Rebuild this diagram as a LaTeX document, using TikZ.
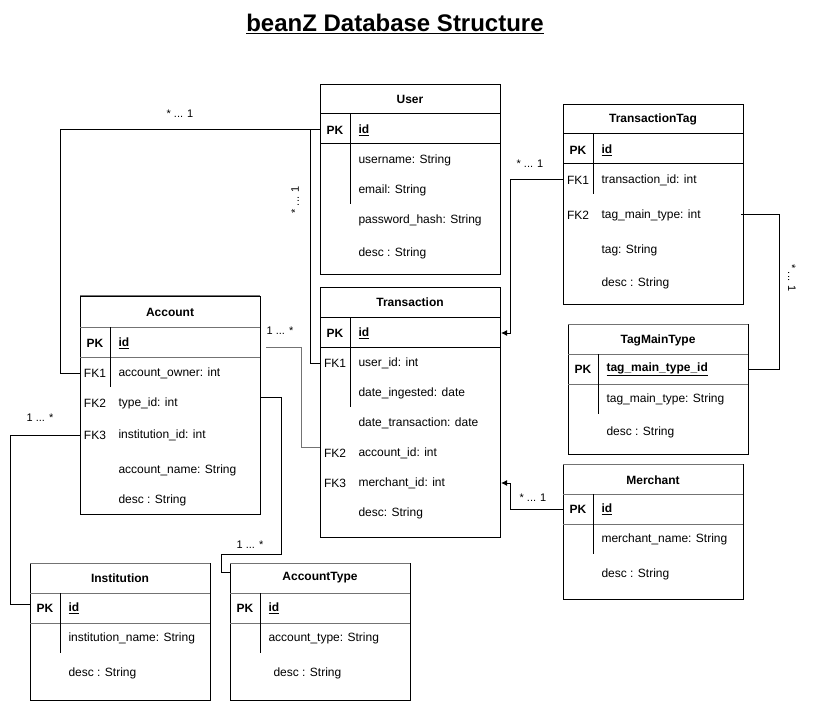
\documentclass[tikz,border=0pt]{standalone}
\usepackage{fontspec}
\setmainfont{Liberation Sans}
\usetikzlibrary{arrows.meta}

\begin{document}
\begin{tikzpicture}[x=1pt,y=-1pt,line width=1pt,
  every node/.style={inner sep=0pt,font=\fontsize{12}{14}\selectfont},
  tbl/.style={draw,anchor=north west,minimum width=180pt},
  head/.style={font=\fontsize{12}{14}\selectfont\bfseries},
  row/.style={anchor=west},
  sep/.style={draw=black},
  gsep/.style={draw=black!55},
  mult/.style={font=\fontsize{11}{13}\selectfont},
  link/.style={draw=black},
  fk/.style={-{Latex[length=6pt,width=6pt]}}]
\useasboundingbox (0,0) rectangle (819,711);

% title
\node[font=\fontsize{24}{28}\selectfont\bfseries] (title) at (395,24) {\underline{beanZ Database Structure}};

% User
\node[tbl,minimum height=190pt] (user) at (320,84) {};
\node[head] (user-h) at (410,99) {User};
\draw[sep] (320,114) -- (500,114);
\draw[sep] (320,144) -- (500,144);
\draw[sep] (350,114) -- (350,204);
\node[head] (u-pk) at (335,130) {PK};
\node[row,head] (u-id) at (358,130) {\underline{id}};
\node[row] (u-name) at (358,160) {username: String};
\node[row] (u-mail) at (358,190) {email: String};
\node[row] (u-pass) at (358,220) {password\_hash: String};
\node[row] (u-desc) at (358,253) {desc : String};

% TransactionTag
\node[tbl,minimum height=200pt] (ttag) at (563,104) {};
\node[head] (ttag-h) at (653,119) {TransactionTag};
\draw[sep] (563,134) -- (743,134);
\draw[sep] (563,164) -- (743,164);
\draw[sep] (593,134) -- (593,194);
\node[head] (tt-pk) at (578,150) {PK};
\node (tt-fk1) at (578,180) {FK1};
\node (tt-fk2) at (578,215) {FK2};
\node[row,head] (tt-id) at (601,150) {\underline{id}};
\node[row] (tt-tid) at (601,180) {transaction\_id: int};
\node[row] (tt-tmt) at (601,215) {tag\_main\_type: int};
\node[row] (tt-tag) at (601,250) {tag: String};
\node[row] (tt-desc) at (601,283) {desc : String};

% Transaction
\node[tbl,minimum height=250pt] (trans) at (320,287) {};
\node[head] (trans-h) at (410,302) {Transaction};
\draw[sep] (320,317) -- (500,317);
\draw[sep] (320,347) -- (500,347);
\draw[sep] (350,317) -- (350,407);
\node[head] (t-pk) at (335,333) {PK};
\node (t-fk1) at (335,363) {FK1};
\node (t-fk2) at (335,453) {FK2};
\node (t-fk3) at (335,483) {FK3};
\node[row,head] (t-id) at (358,333) {\underline{id}};
\node[row] (t-user) at (358,363) {user\_id: int};
\node[row] (t-ing) at (358,393) {date\_ingested: date};
\node[row] (t-date) at (358,423) {date\_transaction: date};
\node[row] (t-acc) at (358,453) {account\_id: int};
\node[row] (t-merch) at (358,483) {merchant\_id: int};
\node[row] (t-desc) at (358,513) {desc: String};

% Account
\node[tbl,minimum height=218pt] (account) at (80,296) {};
\node[head] (account-h) at (170,312) {Account};
\draw[gsep] (80,296) -- (260,296);
\draw[gsep] (80,327) -- (260,327);
\draw[gsep] (80,357) -- (260,357);
\draw[sep] (110,327) -- (110,387);
\node[head] (a-pk) at (95,343) {PK};
\node (a-fk1) at (95,373) {FK1};
\node (a-fk2) at (95,403) {FK2};
\node (a-fk3) at (95,435) {FK3};
\node[row,head] (a-id) at (118,343) {\underline{id}};
\node[row] (a-owner) at (118,373) {account\_owner: int};
\node[row] (a-type) at (118,403) {type\_id: int};
\node[row] (a-inst) at (118,435) {institution\_id: int};
\node[row] (a-name) at (118,470) {account\_name: String};
\node[row] (a-desc) at (118,500) {desc : String};

% TagMainType
\node[tbl,minimum height=130pt] (tmtype) at (568,324) {};
\node[head] (tmtype-h) at (658,340) {TagMainType};
\draw[gsep] (568,324) -- (748,324);
\draw[gsep] (568,354) -- (748,354);
\draw[gsep] (568,384) -- (748,384);
\draw[sep] (598,354) -- (598,414);
\node[head] (tm-pk) at (583,369) {PK};
\node[row,head] (tm-id) at (606,369) {\underline{tag\_main\_type\_id}};
\node[row] (tm-type) at (606,399) {tag\_main\_type: String};
\node[row] (tm-desc) at (606,432) {desc : String};

% Merchant
\node[tbl,minimum height=135pt] (merch) at (563,464) {};
\node[head] (merch-h) at (653,480) {Merchant};
\draw[gsep] (563,464) -- (743,464);
\draw[gsep] (563,494) -- (743,494);
\draw[gsep] (563,524) -- (743,524);
\draw[sep] (593,494) -- (593,554);
\node[head] (m-pk) at (578,509) {PK};
\node[row,head] (m-id) at (601,509) {\underline{id}};
\node[row] (m-name) at (601,539) {merchant\_name: String};
\node[row] (m-desc) at (601,574) {desc : String};

% Institution
\node[tbl,minimum height=137pt] (inst) at (30,563) {};
\node[head] (inst-h) at (120,578) {Institution};
\draw[gsep] (30,563) -- (210,563);
\draw[gsep] (30,593) -- (210,593);
\draw[gsep] (30,623) -- (210,623);
\draw[sep] (60,593) -- (60,653);
\node[head] (i-pk) at (45,608) {PK};
\node[row,head] (i-id) at (68,608) {\underline{id}};
\node[row] (i-name) at (68,638) {institution\_name: String};
\node[row] (i-desc) at (68,673) {desc : String};

% AccountType
\node[tbl,minimum height=137pt] (atype) at (230,563) {};
\node[head] (atype-h) at (320,578) {AccountType};
\draw[gsep] (230,563) -- (410,563);
\draw[gsep] (230,593) -- (410,593);
\draw[gsep] (230,623) -- (410,623);
\draw[sep] (260,593) -- (260,653);
\node[head] (at-pk) at (245,608) {PK};
\node[row,head] (at-id) at (268,608) {\underline{id}};
\node[row] (at-type) at (268,638) {account\_type: String};
\node[row] (at-desc) at (273,673) {desc : String};

% connectors
\draw[link] (user.west |- u-id) -- ++(-260,0) |- (account.west |- a-owner);
\draw[link] (user.west |- u-id) ++(-10,0) |- (trans.west |- t-user);
\draw[link,fk] (ttag.west |- tt-tid) -- ++(-53,0) |- (trans.east |- t-id);
\draw[link] ([xshift=-3pt]ttag.east |- tt-tmt) -- ++(38,0) |- (tmtype.east |- tm-id);
\draw[link,draw=black!55] ([xshift=5pt]account.east |- 0,347) -- ++(35,0) |- (trans.west |- 0,447);
\draw[link] (account.east |- 0,397) -- ++(20,0) -- ++(0,157) -- ++(-60,0) |- ([yshift=-9pt]atype.north west);
\draw[link] (account.west |- a-inst) -- ++(-70,0) |- (inst.west |- 0,604);
\draw[link,fk] (merch.west |- m-id) -- ++(-53,0) |- (trans.east |- t-merch);

% multiplicities
\node[mult] (m1) at (180,114) {* ... 1};
\node[mult,rotate=90] (m2) at (295,200) {* ... 1};
\node[mult] (m3) at (530,164) {* ... 1};
\node[mult,rotate=-90] (m4) at (792,278) {* ... 1};
\node[mult] (m5) at (280,331) {1 ... *};
\node[mult] (m6) at (250,545) {1 ... *};
\node[mult] (m7) at (40,418) {1 ... *};
\node[mult] (m8) at (533,498) {* ... 1};
\end{tikzpicture}
\end{document}
